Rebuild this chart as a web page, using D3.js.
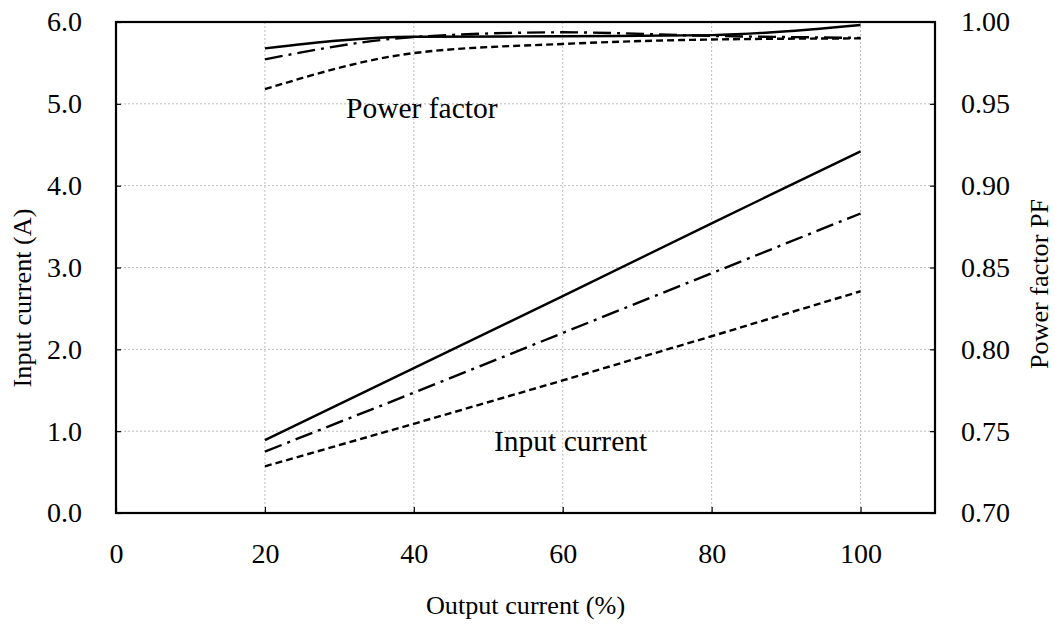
<!DOCTYPE html>
<html><head><meta charset="utf-8">
<script src="https://cdn.jsdelivr.net/npm/d3@7"></script>
<style>
html,body{margin:0;padding:0;background:#fff;}
svg text{font-family:"Liberation Serif","Times New Roman",serif;fill:#000;}
</style></head>
<body><svg id="chart" width="1055" height="624"></svg>
<script>
const outputPct = [20, 40, 60, 80, 100];
const currentSolid = [0.89, 1.77, 2.65, 3.54, 4.42];
const currentDashDot = [0.75, 1.47, 2.20, 2.93, 3.66];
const currentDashed = [0.57, 1.09, 1.62, 2.16, 2.71];
const pfSolid = [0.9839, 0.9910, 0.9913, 0.9920, 0.9982];
const pfDashDot = [0.9772, 0.9908, 0.9937, 0.9915, 0.9903];
const pfDashed = [0.9590, 0.9810, 0.9866, 0.9893, 0.9900];
const xTicks = [0, 20, 40, 60, 80, 100];
const yLeftTicks = [0, 1, 2, 3, 4, 5, 6];
const yRightTicks = [0.70, 0.75, 0.80, 0.85, 0.90, 0.95, 1.00];

const SERIF = '"Liberation Serif","Times New Roman",serif';
const svg = d3.select("#chart");
const L = 116, R = 935, T = 22, B = 513;
const x = d3.scaleLinear().domain([0, 110]).range([L, R]);
const yL = d3.scaleLinear().domain([0, 6]).range([B, T]);
const yR = d3.scaleLinear().domain([0.70, 1.00]).range([B, T]);
const tickFs = 28, annFs = 29.5, titleFs = 26.2;

// grid
const grid = svg.append("g");
grid.selectAll("line.v").data(xTicks.filter(d => d > 0)).join("line")
  .attr("x1", d => x(d)).attr("x2", d => x(d)).attr("y1", T).attr("y2", B)
  .attr("stroke", "#bdbdbd").attr("stroke-width", 1).attr("stroke-dasharray", "2,2");
grid.selectAll("line.h").data(yLeftTicks.filter(d => d > 0 && d < 6)).join("line")
  .attr("x1", L).attr("x2", R).attr("y1", d => yL(d)).attr("y2", d => yL(d))
  .attr("stroke", "#bdbdbd").attr("stroke-width", 1).attr("stroke-dasharray", "2,2");

// axes
const xAxis = d3.axisBottom(x).tickValues(xTicks).tickSizeInner(-6).tickSizeOuter(0).tickPadding(30).tickFormat(d3.format("d"));
const gx = svg.append("g").attr("transform", `translate(0,${B})`).call(xAxis);
const yAxisL = d3.axisLeft(yL).tickValues(yLeftTicks).tickSizeInner(-5).tickSizeOuter(0).tickPadding(34).tickFormat(d3.format(".1f"));
const gyl = svg.append("g").attr("transform", `translate(${L},0)`).call(yAxisL);
const yAxisR = d3.axisRight(yR).tickValues(yRightTicks).tickSizeInner(-5).tickSizeOuter(0).tickPadding(26).tickFormat(d3.format(".2f"));
const gyr = svg.append("g").attr("transform", `translate(${R},0)`).call(yAxisR);
[gx, gyl, gyr].forEach(g => {
  g.attr("font-family", SERIF).attr("font-size", tickFs);
  g.select(".domain").remove();
  g.selectAll(".tick line").attr("stroke", "#000").attr("stroke-width", 1.2);
  g.selectAll(".tick text").style("font-family", SERIF).style("font-size", tickFs + "px").attr("fill", "#000");
});

// frame
svg.append("rect").attr("x", L).attr("y", T).attr("width", R - L).attr("height", B - T)
  .attr("fill", "none").attr("stroke", "#000").attr("stroke-width", 2.2);

// series
const styles = { solid: null, dashdot: "18,6,3,6", dashed: "7,4" };
const curveLine = (scale, curve) => d3.line().x((d, i) => x(outputPct[i])).y(d => scale(d)).curve(curve);
const series = [
  [currentSolid, yL, styles.solid, d3.curveLinear],
  [currentDashDot, yL, styles.dashdot, d3.curveLinear],
  [currentDashed, yL, styles.dashed, d3.curveLinear],
  [pfSolid, yR, styles.solid, d3.curveMonotoneX],
  [pfDashDot, yR, styles.dashdot, d3.curveMonotoneX],
  [pfDashed, yR, styles.dashed, d3.curveMonotoneX]
];
series.forEach(([vals, sc, dash, curve]) => {
  svg.append("path").datum(vals).attr("d", curveLine(sc, curve))
    .attr("fill", "none").attr("stroke", "#000").attr("stroke-width", 2.4)
    .attr("stroke-dasharray", dash);
});

// annotations
svg.append("text").attr("x", 346).attr("y", 118).style("font-size", annFs + "px").text("Power factor");
svg.append("text").attr("x", 494).attr("y", 451).style("font-size", annFs + "px").text("Input current");

// axis titles
svg.append("text").attr("x", (L + R) / 2).attr("y", 614).attr("text-anchor", "middle").style("font-size", titleFs + "px").text("Output current (%)");
svg.append("text").attr("transform", `translate(31,298) rotate(-90)`).attr("text-anchor", "middle").style("font-size", titleFs + "px").text("Input current (A)");
svg.append("text").attr("transform", `translate(1048,284) rotate(-90)`).attr("text-anchor", "middle").style("font-size", titleFs + "px").text("Power factor PF");
</script></body></html>
